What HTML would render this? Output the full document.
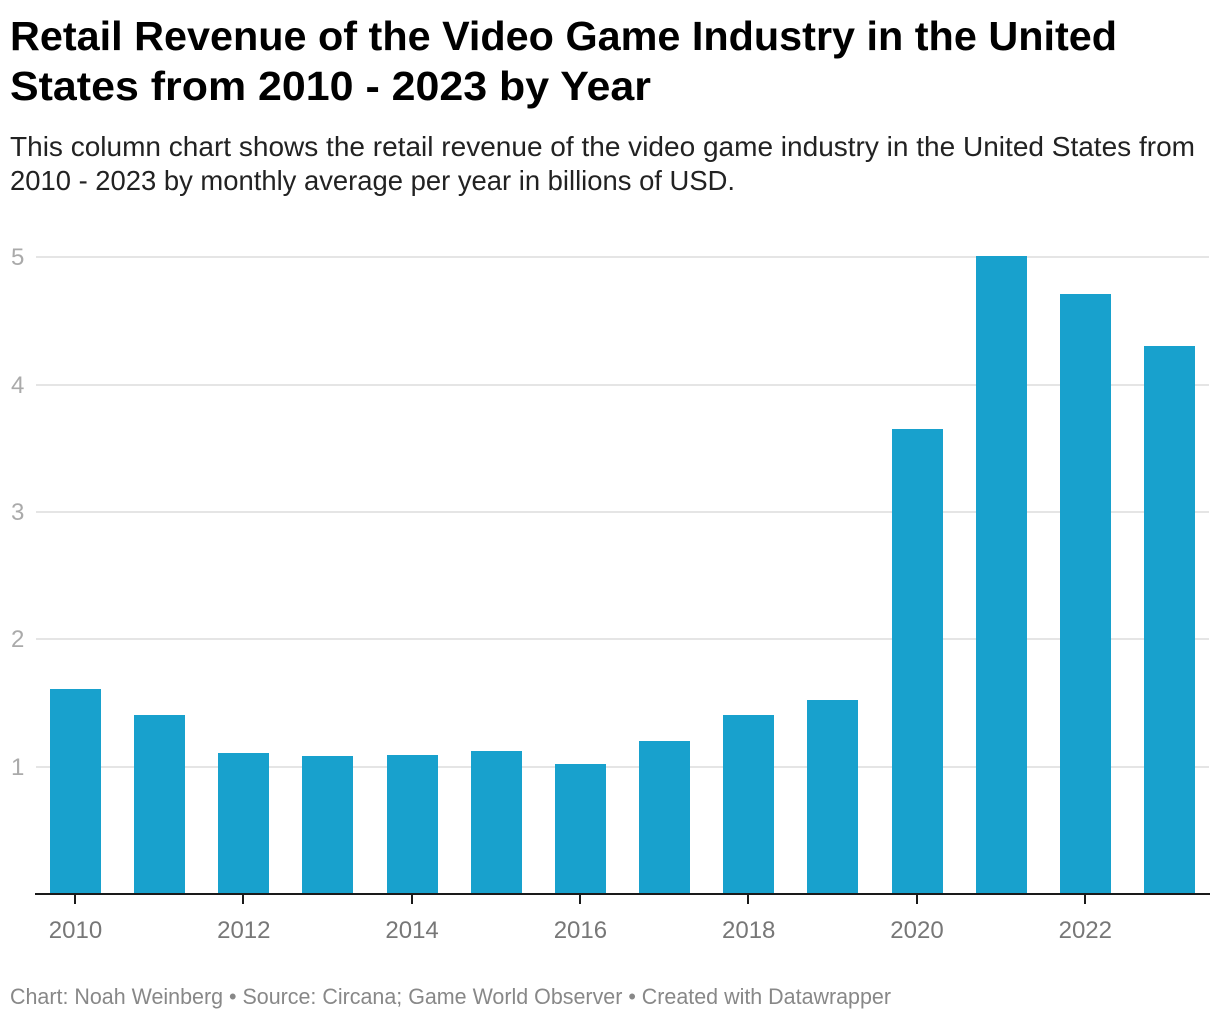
<!DOCTYPE html>
<html lang="en">
<head>
<meta charset="utf-8">
<title>Retail Revenue of the Video Game Industry</title>
<style>
html,body{margin:0;padding:0;background:#fff;}
body{width:1220px;height:1020px;overflow:hidden;font-family:"Liberation Sans",Arial,sans-serif;}
svg{display:block;position:absolute;left:0;top:0;}
</style>
</head>
<body>
<svg id="chart" width="1220" height="1020" viewBox="0 0 1220 1020" xmlns="http://www.w3.org/2000/svg" font-family="'Liberation Sans', Arial, sans-serif">
  <text x="10" y="50" font-size="41" font-weight="700" fill="#000" textLength="1107" lengthAdjust="spacingAndGlyphs">Retail Revenue of the Video Game Industry in the United</text>
  <text x="10" y="100" font-size="41" font-weight="700" fill="#000" textLength="641" lengthAdjust="spacingAndGlyphs">States from 2010 - 2023 by Year</text>
  <text x="10" y="156" font-size="28" fill="#222" textLength="1185" lengthAdjust="spacingAndGlyphs">This column chart shows the retail revenue of the video game industry in the United States from</text>
  <text x="10" y="190" font-size="28" fill="#222" textLength="725" lengthAdjust="spacingAndGlyphs">2010 - 2023 by monthly average per year in billions of USD.</text>
  <g id="grid"></g>
  <g id="y-labels"></g>
  <g id="bars"></g>
  <g id="x-axis"></g>
  <text x="10" y="1004" font-size="22" fill="#888" textLength="881" lengthAdjust="spacingAndGlyphs">Chart: Noah Weinberg • Source: Circana; Game World Observer • Created with Datawrapper</text>
</svg>
<script>
const years = [2010, 2011, 2012, 2013, 2014, 2015, 2016, 2017, 2018, 2019, 2020, 2021, 2022, 2023];
const revenue = [1.605, 1.4, 1.1, 1.08, 1.09, 1.12, 1.015, 1.2, 1.4, 1.52, 3.645, 5.0, 4.705, 4.3];
const yTicks = [1, 2, 3, 4, 5];
const xTicks = [2010, 2012, 2014, 2016, 2018, 2020, 2022];

const SVG_NS = 'http://www.w3.org/2000/svg';
const zeroY = 894.2;
const unitHeight = 127.4;
const firstCenter = 75.5;
const step = 84.15;
const barWidth = 51;
const barBottom = 894;

function yScale(v) { return zeroY - v * unitHeight; }
function xScale(year) { return firstCenter + (year - years[0]) * step; }
function make(tag, attrs, parent) {
  const el = document.createElementNS(SVG_NS, tag);
  for (const k in attrs) el.setAttribute(k, attrs[k]);
  parent.appendChild(el);
  return el;
}

const gridGroup = document.getElementById('grid');
const yLabelGroup = document.getElementById('y-labels');
const barGroup = document.getElementById('bars');
const xAxisGroup = document.getElementById('x-axis');

yTicks.forEach(function (t) {
  const gy = Math.round(yScale(t));
  const line = make('line', {x1: 36, x2: 1209, y1: gy, y2: gy, stroke: '#e5e5e5', 'stroke-width': 2}, gridGroup);
  
  
  const label = make('text', {x: 11, y: gy + 8, 'font-size': 24, fill: '#aaaaaa'}, yLabelGroup);
  label.textContent = String(t);
  
  
});

years.forEach(function (year, i) {
  const top = Math.round(yScale(revenue[i]) - 0.8);
  const left = Math.round(xScale(year) - barWidth / 2);
  const bar = make('rect', {x: left, y: top, width: barWidth, height: barBottom - top, fill: '#18a1cd'}, barGroup);
  
  
});

const axisLine = make('line', {x1: 35, x2: 1210, y1: 894, y2: 894, stroke: '#1a1a1a', 'stroke-width': 2}, xAxisGroup);



xTicks.forEach(function (year) {
  const cx = xScale(year);
  const tx = Math.round(cx - 0.5);
  const tick = make('line', {x1: tx, x2: tx, y1: 894, y2: 904, stroke: '#1a1a1a', 'stroke-width': 2}, xAxisGroup);
  
  
  const label = make('text', {x: cx, y: 938, 'font-size': 24, fill: '#777', 'text-anchor': 'middle'}, xAxisGroup);
  label.textContent = String(year);
  
  
});
</script>
</body>
</html>
